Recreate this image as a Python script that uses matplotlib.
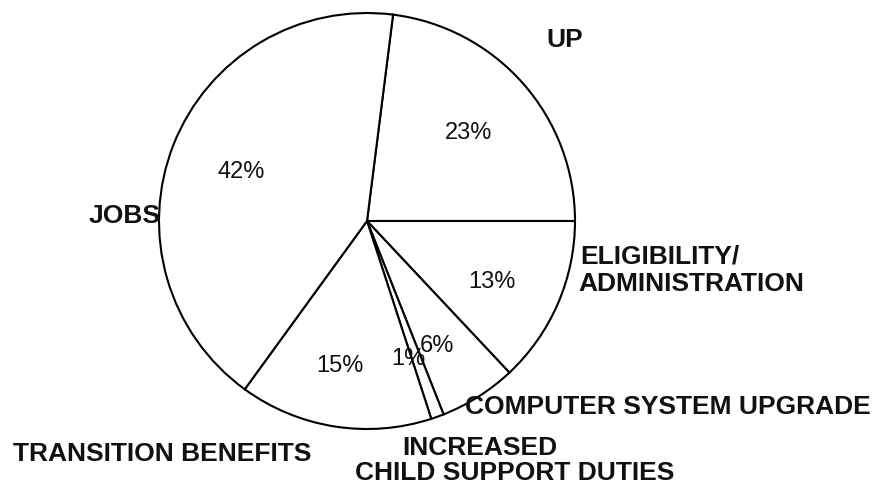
import matplotlib.pyplot as plt

# budget shares, clockwise from the top
categories = ["UP", "ELIGIBILITY/\nADMINISTRATION", "COMPUTER SYSTEM UPGRADE",
              "INCREASED\nCHILD SUPPORT DUTIES", "TRANSITION BENEFITS", "JOBS"]
shares = [23, 13, 6, 1, 15, 42]

W, H = 886, 485
fig = plt.figure(figsize=(W / 100, H / 100), dpi=100)
fig.patch.set_facecolor("white")
ax = fig.add_axes([0, 0, 1, 1])

cx, cy, r = 367, H - 222, 208

ax.pie(shares, startangle=360 * shares[0] / 100, counterclock=False,
       center=(cx, cy), radius=r, frame=False,
       wedgeprops=dict(facecolor="white", edgecolor="black", linewidth=1.5))

ax.set_xlim(0, W)
ax.set_ylim(0, H)
ax.set_aspect("equal")
ax.axis("off")

lab = dict(family="Liberation Sans", fontweight="bold", fontsize=19, color="#111111")
pct = dict(family="Liberation Sans", fontsize=17, color="#111111", ha="center", va="center")

# percent labels inside the wedges
pct_pos = [(469, 133), (492, 282), (437, 346), (408, 359), (340, 366), (241, 172)]
for v, (x, y) in zip(shares, pct_pos):
    ax.text(x, H - y, f"{v}%", **pct)

# category labels around the pie (pixel anchors, one per line)
label_pos = [
    [(565, 40, "center")],
    [(580, 257, "left"), (578, 284, "left")],
    [(465, 407, "left")],
    [(402, 448, "left"), (355, 473, "left")],
    [(13, 454, "left")],
    [(161, 216, "right")],
]
for name, anchors in zip(categories, label_pos):
    for line, (x, y, ha) in zip(name.split("\n"), anchors):
        ax.text(x, H - y, line, ha=ha, va="center", **lab)

fig.savefig("out.png", dpi=100)
